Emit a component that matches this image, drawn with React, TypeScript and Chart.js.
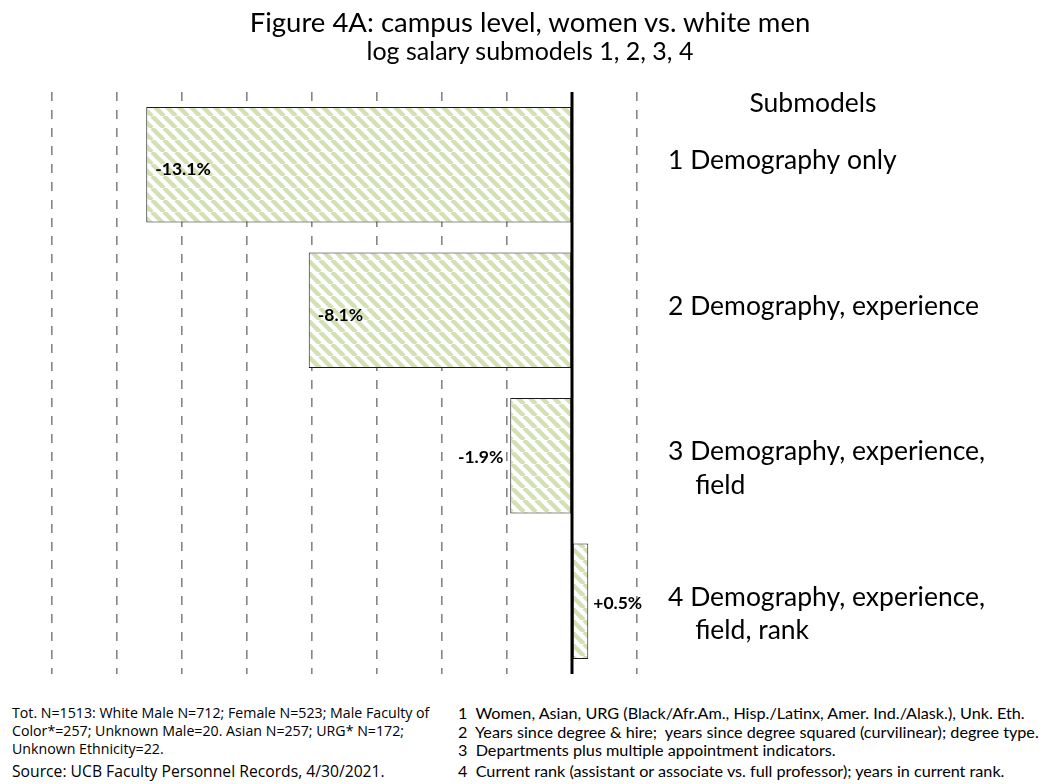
import React, { useEffect, useRef } from "react";
import { Chart, registerables } from "chart.js";

Chart.register(...registerables);

// ---------- data ----------
const categoryLabels: string[][] = [
  ["1 Demography only"],
  ["2 Demography, experience"],
  ["3 Demography, experience,", "    field"],
  ["4 Demography, experience,", "    field, rank"],
];
const gapPercent: number[] = [-13.1, -8.1, -1.9, 0.5];
const axisMin = -16;
const axisMax = 2;
const axisStep = 2;

const titleText = "Figure 4A: campus level, women vs. white men";
const subtitleText = "log salary submodels 1, 2, 3, 4";
const headerText = "Submodels";

const leftNotes: string[] = [
  "Tot. N=1513: White Male N=712; Female N=523; Male Faculty of",
  "Color*=257; Unknown Male=20. Asian N=257; URG* N=172;",
  "Unknown Ethnicity=22.",
];
const sourceNote = "Source: UCB Faculty Personnel Records, 4/30/2021.";
const rightNotes: string[] = [
  "1  Women, Asian, URG (Black/Afr.Am., Hisp./Latinx, Amer. Ind./Alask.), Unk. Eth.",
  "2  Years since degree & hire;  years since degree squared (curvilinear); degree type.",
  "3  Departments plus multiple appointment indicators.",
  "4  Current rank (assistant or associate vs. full professor); years in current rank.",
];

const FONT = "Lato, 'Open Sans', sans-serif";
const NOTE_FONT = "'Open Sans', sans-serif";

function makeHatch(): CanvasPattern | string {
  const p = 12;
  const c = document.createElement("canvas");
  c.width = p;
  c.height = p;
  const g = c.getContext("2d");
  if (!g) return "#d6e3bd";
  g.fillStyle = "#ffffff";
  g.fillRect(0, 0, p, p);
  g.strokeStyle = "#d2e0b4";
  g.lineWidth = 4.4;
  for (const o of [-p, 0, p]) {
    g.beginPath();
    g.moveTo(o, 0);
    g.lineTo(o + p, p);
    g.stroke();
  }
  return g.createPattern(c, "repeat") || "#d6e3bd";
}

const fmt = (v: number) => (v > 0 ? "+" : "") + v.toFixed(1) + "%";

const overlayPlugin = {
  id: "overlayPlugin",
  afterDatasetsDraw(chart: any) {
    const { ctx, chartArea, scales } = chart;
    const x0 = scales.x.getPixelForValue(0);
    ctx.save();
    // zero axis line
    ctx.strokeStyle = "#000";
    ctx.lineWidth = 3;
    ctx.beginPath();
    ctx.moveTo(x0, chartArea.top);
    ctx.lineTo(x0, chartArea.bottom);
    ctx.stroke();
    // data labels
    const meta = chart.getDatasetMeta(0);
    ctx.font = `bold 17.5px ${FONT}`;
    ctx.fillStyle = "#000";
    ctx.textBaseline = "middle";
    meta.data.forEach((bar: any, i: number) => {
      const v = gapPercent[i];
      const { x, base, y } = bar.getProps(["x", "base", "y"], true);
      const w = Math.abs(x - base);
      const t = fmt(v);
      if (w > 100) {
        ctx.textAlign = v < 0 ? "left" : "right";
        ctx.fillText(t, v < 0 ? x + 9 : x - 9, y + 5);
      } else {
        ctx.textAlign = v < 0 ? "right" : "left";
        ctx.fillText(t, v < 0 ? x - 7 : x + 5, y + 2);
      }
    });
    // category labels (first line at the category centre, continuation below)
    const yScale = scales.y;
    ctx.font = `26.5px ${FONT}`;
    ctx.textAlign = "left";
    categoryLabels.forEach((lines, i) => {
      const cy = yScale.getPixelForValue(i);
      lines.forEach((ln, j) => {
        ctx.fillText(ln, yScale.left + 31, cy - 4 + j * 33.5);
      });
    });
    // header over category labels
    ctx.textAlign = "center";
    ctx.fillText(headerText, yScale.left + 176, chartArea.top + 11);
    ctx.restore();
  },
};

export default function App() {
  const ref = useRef<HTMLCanvasElement | null>(null);

  useEffect(() => {
    if (!ref.current) return;
    const hatch = makeHatch();
    const chart = new Chart(ref.current, {
      type: "bar",
      data: {
        labels: categoryLabels.map((l) => l.join(" ")),
        datasets: [
          {
            data: gapPercent,
            backgroundColor: hatch as any,
            borderColor: "#1a1a1a",
            borderWidth: 1,
            borderSkipped: false,
            categoryPercentage: 0.794,
            barPercentage: 1,
          },
        ],
      },
      options: {
        indexAxis: "y",
        responsive: false,
        animation: false,
        layout: { padding: { left: 44, top: 84, bottom: 24, right: 0 } },
        plugins: {
          legend: { display: false },
          tooltip: { enabled: false },
          title: { display: false },
        },
        scales: {
          x: {
            type: "linear",
            min: axisMin,
            max: axisMax,
            ticks: { display: false, stepSize: axisStep },
            grid: { color: "#858585", lineWidth: 1.6, drawTicks: false },
            border: { display: false, dash: [9, 9] },
            afterFit: (s: any) => {
              s.height = 0;
              s.paddingLeft = 0;
              s.paddingRight = 0;
            },
          },
          y: {
            position: "right",
            grid: { display: false, drawTicks: false },
            border: { display: false },
            ticks: { display: false },
            afterFit: (s: any) => {
              s.width = 415;
              s.paddingTop = 0;
              s.paddingBottom = 0;
            },
          },
        },
      },
      plugins: [overlayPlugin],
    });
    return () => chart.destroy();
  }, []);

  const line = (text: string, top: number, left: number, size: number, family: string) => (
    <div
      key={text}
      style={{
        position: "absolute",
        top,
        left,
        fontFamily: family,
        fontSize: size,
        lineHeight: "16px",
        whiteSpace: "pre",
        color: "#000",
      }}
    >
      {text}
    </div>
  );

  return (
    <div
      style={{
        position: "relative",
        width: 1044,
        height: 776,
        background: "#fff",
        overflow: "hidden",
      }}
    >
      <canvas ref={ref} width={1044} height={690} style={{ display: "block" }} />
      <div
        style={{
          position: "absolute",
          top: 0,
          left: 0,
          width: 1044,
          textAlign: "center",
          fontFamily: FONT,
          fontSize: 27.5,
          lineHeight: "28px",
          color: "#000",
        }}
      >
        {titleText}
      </div>
      <div
        style={{
          position: "absolute",
          top: 29,
          left: 0,
          width: 1044,
          textAlign: "center",
          fontFamily: FONT,
          fontSize: 25,
          lineHeight: "26px",
          color: "#000",
        }}
      >
        {subtitleText}
      </div>
      {leftNotes.map((t, i) => line(t, 697 + i * 18, 4, 14.2, NOTE_FONT))}
      {line(sourceNote, 755, 4, 15.7, NOTE_FONT)}
      {rightNotes.map((t, i) => line(t, [697, 716, 734, 755][i], 450, 16.2, FONT))}
    </div>
  );
}
